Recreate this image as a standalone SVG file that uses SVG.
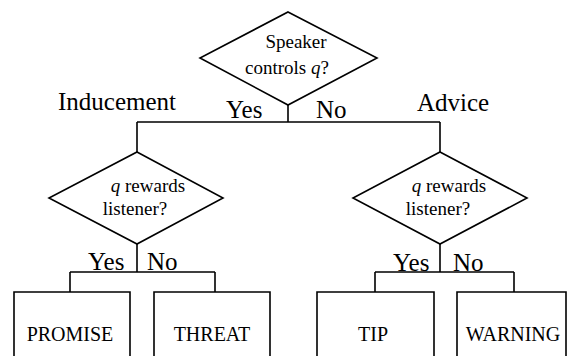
<svg xmlns="http://www.w3.org/2000/svg" width="567" height="356" viewBox="0 0 567 356">
<style>
.s{fill:none;stroke:#000;stroke-width:1.6}
.w{fill:#fff;stroke:#000;stroke-width:1.6}
text{font-family:"Liberation Serif","Times New Roman",serif;fill:#000}
.d{font-size:19px}
.l{font-size:25px}
.b{font-size:20px}
.m{text-anchor:middle}
</style>
<rect width="567" height="356" fill="#fff"/>
<g id="connectors">
<path class="s" d="M288 105V122M137 122H440M137 122V152M440 122V152"/>
<path class="s" d="M137 244V272M70 272H215M70 272V292M215 272V292"/>
<path class="s" d="M440 244V272M375 272H514M375 272V292M514 272V292"/>
</g>
<g id="root">
<polygon class="w" points="288,12 377,58 288,105 200,58"/>
<text class="d m" x="296" y="48">Speaker</text>
<text class="d m" x="287" y="74">controls <tspan font-style="italic">q</tspan>?</text>
</g>
<g id="labels-top">
<text class="l" x="226" y="118">Yes</text>
<text class="l" x="316" y="118">No</text>
<text class="l" x="58" y="110">Inducement</text>
<text class="l" x="417" y="111">Advice</text>
</g>
<g id="left-diamond">
<polygon class="w" points="137,152 223,198 137,244 49,198"/>
<text class="d m" x="148" y="192"><tspan font-style="italic">q</tspan> rewards</text>
<text class="d m" x="135" y="215">listener?</text>
</g>
<g id="right-diamond">
<polygon class="w" points="440,152 527,198 440,244 353,198"/>
<text class="d m" x="449" y="192"><tspan font-style="italic">q</tspan> rewards</text>
<text class="d m" x="438" y="215">listener?</text>
</g>
<g id="labels-bottom">
<text class="l" x="88" y="270">Yes</text>
<text class="l" x="147" y="270">No</text>
<text class="l" x="393" y="271">Yes</text>
<text class="l" x="453" y="271">No</text>
</g>
<g id="promise">
<path class="s" d="M14 357V292H130V357"/>
<text class="b m" x="70" y="341">PROMISE</text>
</g>
<g id="threat">
<path class="s" d="M154 357V292H270V357"/>
<text class="b m" x="212" y="341">THREAT</text>
</g>
<g id="tip">
<path class="s" d="M317 357V292H434V357"/>
<text class="b m" x="373" y="341">TIP</text>
</g>
<g id="warning">
<path class="s" d="M457 357V292H566V357"/>
<text class="b m" x="513" y="341">WARNING</text>
</g>
</svg>
